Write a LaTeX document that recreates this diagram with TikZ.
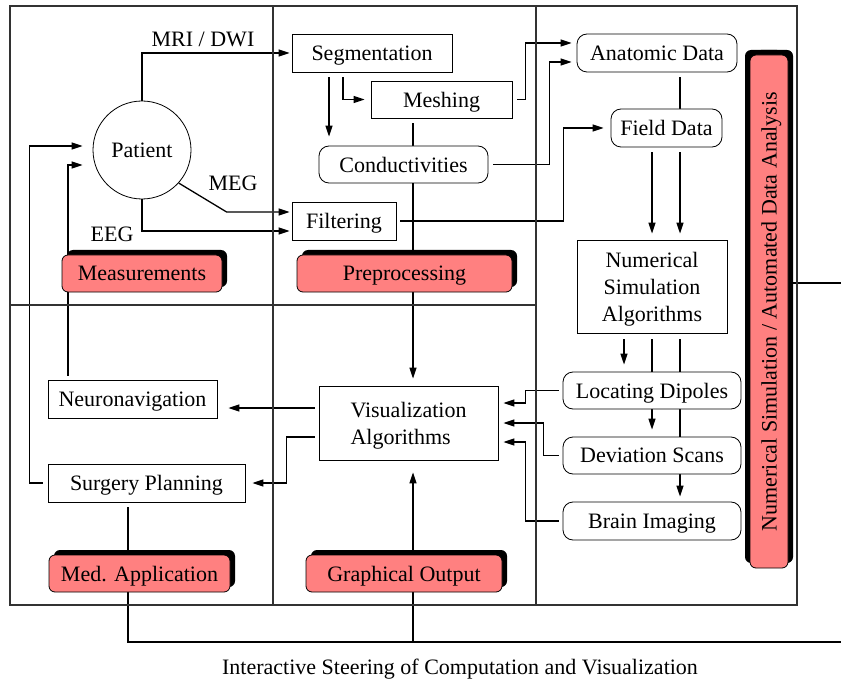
\documentclass[tikz,border=0pt]{standalone}
\usepackage{fontspec}
\setmainfont{Liberation Serif}
\usetikzlibrary{arrows.meta,shadows,calc}
\pgfdeclarelayer{background}
\pgfsetlayers{background,main}
\definecolor{stagered}{RGB}{255,128,128}
\definecolor{framegray}{RGB}{50,50,50}
\tikzset{
  box/.style={draw, line width=0.8pt, fill=white, inner sep=0pt, align=center, text depth=0pt},
  rbox/.style={box, rounded corners=10pt},
  stagebox/.style={draw, line width=0.8pt, fill=stagered, rounded corners=6pt, inner sep=0pt, text depth=0pt,
    drop shadow={shadow xshift=5pt, shadow yshift=5pt, fill=black, opacity=1}},
  link/.style={line width=1.3pt},
  arr/.style={link, -{Triangle[length=11pt,width=7pt]}},
  frameline/.style={line width=1.1pt, draw=framegray}
}
\begin{document}
\begin{tikzpicture}[x=1pt,y=-1pt,font=\fontsize{22}{27}\selectfont]
\useasboundingbox (0,0) rectangle (841,679);

% panel frame
\draw[frameline] (10,6) rectangle (797,605);
\draw[frameline] (273,6) -- (273,605);
\draw[frameline] (536,6) -- (536,605);
\draw[frameline] (10,305) -- (536,305);

% measurements
\node[circle, draw, line width=0.8pt, fill=white, minimum size=98pt, inner sep=0pt, text depth=0pt] (patient) at (142,150) {Patient};
\node[stagebox, minimum width=160pt, minimum height=37pt] (meas) at (142,273.5) {Measurements};
\node (lblmri) at (203,39) {MRI / DWI};
\node (lblmeg) at (233,183) {MEG};
\node (lbleeg) at (112,234) {EEG};

% preprocessing
\node[box, minimum width=160pt, minimum height=38pt] (seg) at (372,53) {Segmentation};
\node[box, minimum width=141pt, minimum height=37pt] (mesh) at (441.5,99.5) {Meshing};
\node[rbox, minimum width=169pt, minimum height=37pt] (cond) at (403.5,164.5) {Conductivities};
\node[box, minimum width=104pt, minimum height=38pt] (filt) at (344,221) {Filtering};
\node[stagebox, minimum width=215pt, minimum height=37pt] (prep) at (404.5,273.5) {Preprocessing};

% numerical simulation
\node[rbox, minimum width=160pt, minimum height=38pt] (anat) at (657,53) {Anatomic Data};
\node[rbox, minimum width=111pt, minimum height=38pt] (field) at (666.5,128) {Field Data};
\node[box, minimum width=150pt, minimum height=93pt] (numsim) at (652,286.5) {Numerical\\Simulation\\Algorithms};
\node[rbox, minimum width=178pt, minimum height=37pt] (locdip) at (652,390.5) {Locating Dipoles};
\node[rbox, minimum width=178pt, minimum height=37pt] (devscan) at (652,455.5) {Deviation Scans};
\node[rbox, minimum width=178pt, minimum height=38pt] (brain) at (652,521) {Brain Imaging};
\node[stagebox, rotate=90, minimum width=513pt, minimum height=38pt,
  drop shadow={shadow xshift=-5pt, shadow yshift=5pt, fill=black, opacity=1}] (numlabel) at (769,311.5)
  {Numerical Simulation / Automated Data Analysis};

% visualization and application
\node[box, minimum width=179pt, minimum height=74pt, align=left] (vis) at (408.5,423) {Visualization\\Algorithms};
\node[box, minimum width=169pt, minimum height=38pt] (neuro) at (132.5,399) {Neuronavigation};
\node[box, minimum width=197pt, minimum height=38pt] (surg) at (146.5,483) {Surgery Planning};
\node[stagebox, minimum width=181pt, minimum height=37pt] (medapp) at (139.5,573.5) {Med. Application};
\node[stagebox, minimum width=196pt, minimum height=37pt] (graph) at (404,573.5) {Graphical Output};

\node (steerlbl) at (460,669) {Interactive Steering of Computation and Visualization};
\coordinate (busend) at (841,642);
\coordinate (ctrlin) at (841,283);

\begin{pgfonlayer}{background}
  % acquisition
  \draw[arr, shorten >=2pt] (patient.north) |- (seg.west);
  \draw[arr, shorten >=2pt] (patient.-42) -- ([xshift=-65pt,yshift=9pt]filt.west) -- ([yshift=9pt]filt.west);
  \draw[arr, shorten >=2pt] (patient.south) |- ([yshift=-10pt]filt.west);
  % preprocessing chain
  \draw[arr, shorten <=5pt, shorten >=9pt] ([xshift=-43pt]seg.south) -- ([xshift=-43pt]seg.south |- cond.north);
  \draw[arr, shorten <=5pt, shorten >=6pt] ([xshift=-29pt]seg.south) |- (mesh.west);
  \draw[arr, shorten <=5pt, shorten >=7pt] ([xshift=-28.5pt]mesh.south) -- ([xshift=-28.5pt]mesh.south |- vis.north);
  \draw[arr, shorten <=5pt, shorten >=5pt] (mesh.east) -- ++(13,0) |- ([yshift=10pt]anat.west);
  \draw[arr, shorten <=5pt, shorten >=5pt] (cond.east) -- ++(61,0) |- ([yshift=-9pt]anat.west);
  \draw[arr, shorten <=4pt, shorten >=7pt] (filt.east) -- ++(167,0) |- (field.west);
  % simulation chain
  \draw[link, shorten <=5pt] ([xshift=23pt]anat.south) -- ([xshift=23pt]anat.south |- field.north);
  \draw[arr, shorten <=5pt, shorten >=6pt] ([xshift=-14.5pt]field.south) -- ([xshift=-14.5pt]field.south |- numsim.north);
  \draw[arr, shorten <=5pt, shorten >=6pt] ([xshift=13.5pt]field.south) -- ([xshift=13.5pt]field.south |- numsim.north);
  \draw[arr, shorten <=6pt, shorten >=7pt] ([xshift=-28pt]numsim.south) -- ([xshift=-28pt]numsim.south |- locdip.north);
  \draw[arr, shorten <=6pt, shorten >=7pt] (numsim.south) -- (devscan.north);
  \draw[arr, shorten <=6pt, shorten >=5pt] ([xshift=28pt]numsim.south) -- ([xshift=28pt]numsim.south |- brain.north);
  \draw[arr, shorten >=12pt] (ctrlin) -- (numlabel.north |- ctrlin);
  % results to visualization
  \draw[arr, shorten <=4pt, shorten >=5pt] (locdip.west) -- ++(-37,0) |- ([yshift=20pt]vis.east);
  \draw[arr, shorten <=4pt, shorten >=5pt] (devscan.west) -- ++(-19,0) |- (vis.east);
  \draw[arr, shorten <=4pt, shorten >=5pt] (brain.west) -- ++(-37,0) |- ([yshift=-19pt]vis.east);
  % visualization to application
  \draw[arr, shorten <=4pt, shorten >=11pt] ([yshift=15pt]vis.west) -- ([yshift=15pt]vis.west -| neuro.east);
  \draw[arr, shorten <=4pt, shorten >=7pt] ([yshift=-14pt]vis.west) -- ++(-32,0) |- (surg.east);
  % feedback to patient
  \draw[arr, shorten <=5pt, shorten >=10pt] (surg.west) -- ++(-18,0) |- ([yshift=4pt]patient.west);
  \draw[arr, shorten <=4pt, shorten >=10pt] ([xshift=-64.5pt]neuro.north) |- ([yshift=-15pt]patient.west);
  % steering bus
  \draw[link, shorten <=5pt] ([xshift=-18.5pt]surg.south) |- (busend);
  \draw[arr, shorten >=12pt] ([xshift=4.5pt]vis.south |- busend) -- ([xshift=4.5pt]vis.south);
\end{pgfonlayer}
\end{tikzpicture}
\end{document}
